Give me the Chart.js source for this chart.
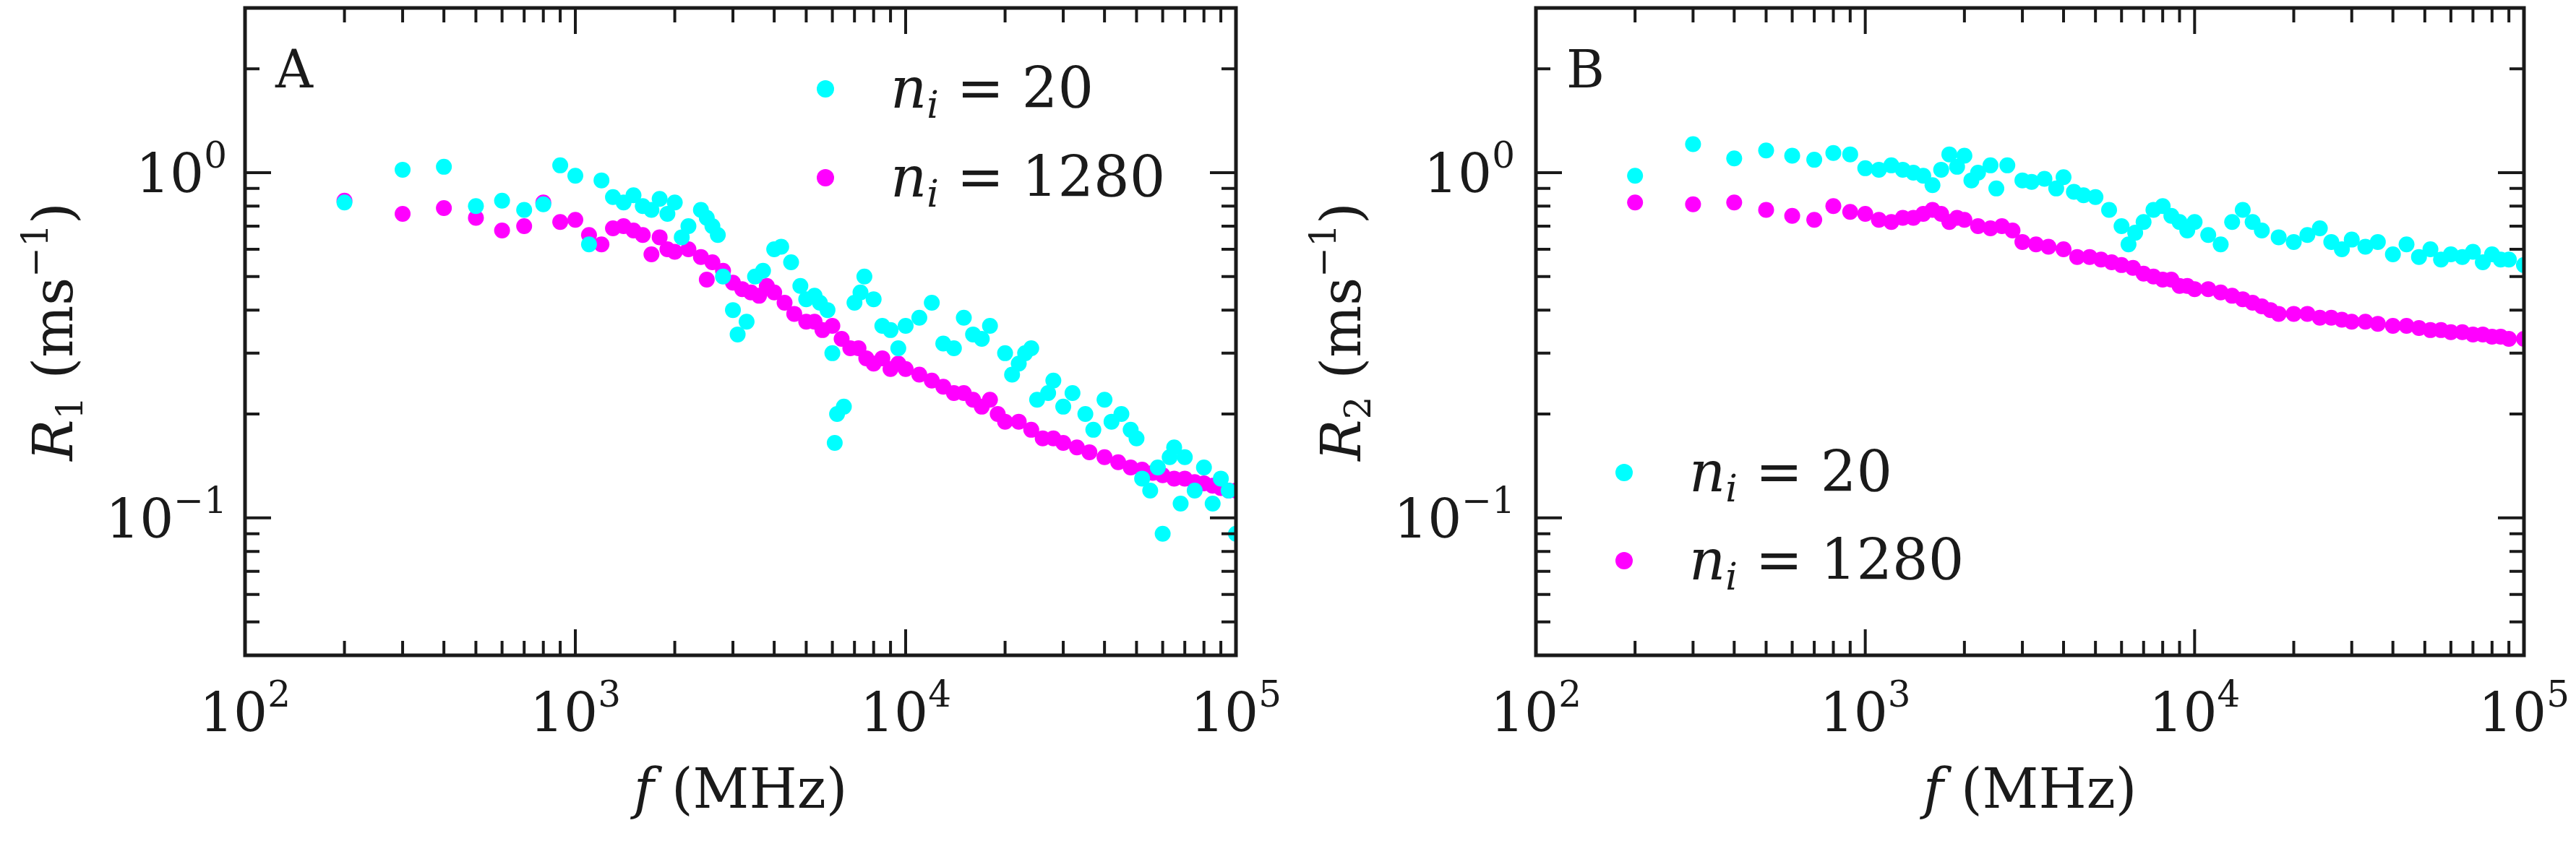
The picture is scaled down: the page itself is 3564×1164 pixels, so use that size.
<!DOCTYPE html>
<html>
<head>
<meta charset="utf-8">
<script src="https://cdn.jsdelivr.net/npm/chart.js@4.4.0/dist/chart.umd.min.js"></script>
<style>
  body { margin: 0; background: #fff; }
  .wrap { display: flex; width: 3564px; height: 1164px; }
  .panel { width: 1782px; height: 1164px; position: relative; }
</style>
</head>
<body>
<div class="wrap">
  <div class="panel"><canvas id="chartA"></canvas></div>
  <div class="panel"><canvas id="chartB"></canvas></div>
</div>
<script>
'use strict';

// Panel A: R1
var fA20 = [200, 300, 400, 500, 600, 700, 800, 900, 1000, 1100, 1200, 1300, 1400, 1500, 1600, 1700, 1800, 1900, 2000, 2100, 2200, 2400, 2500, 2600, 2700, 2800, 3000, 3100, 3300, 3500, 3700, 4000, 4200, 4500, 4800, 5000, 5300, 5500, 5800, 6000, 6100, 6200, 6500, 7000, 7300, 7500, 8000, 8500, 9000, 9500, 10000, 11000, 12000, 13000, 14000, 15000, 16000, 17000, 18000, 20000, 21000, 22000, 23000, 24000, 25000, 27000, 28000, 30000, 32000, 35000, 37000, 40000, 42000, 45000, 48000, 50000, 52000, 55000, 58000, 60000, 63000, 65000, 68000, 70000, 75000, 80000, 85000, 90000, 95000, 100000];
var rA20 = [0.82, 1.02, 1.04, 0.80, 0.83, 0.78, 0.81, 1.05, 0.98, 0.62, 0.95, 0.85, 0.82, 0.86, 0.80, 0.78, 0.84, 0.76, 0.82, 0.65, 0.70, 0.78, 0.74, 0.70, 0.66, 0.50, 0.40, 0.34, 0.37, 0.50, 0.52, 0.60, 0.61, 0.55, 0.47, 0.43, 0.44, 0.42, 0.40, 0.30, 0.165, 0.20, 0.21, 0.42, 0.45, 0.50, 0.43, 0.36, 0.35, 0.31, 0.36, 0.38, 0.42, 0.32, 0.31, 0.38, 0.34, 0.33, 0.36, 0.30, 0.26, 0.28, 0.30, 0.31, 0.22, 0.23, 0.25, 0.21, 0.23, 0.20, 0.18, 0.22, 0.19, 0.20, 0.18, 0.17, 0.13, 0.12, 0.14, 0.09, 0.15, 0.16, 0.11, 0.15, 0.12, 0.14, 0.11, 0.13, 0.12, 0.09];

var fA1280 = [200, 300, 400, 500, 600, 700, 800, 900, 1000, 1100, 1200, 1300, 1400, 1500, 1600, 1700, 1800, 1900, 2000, 2200, 2400, 2500, 2600, 2800, 3000, 3200, 3400, 3600, 3800, 4000, 4300, 4600, 5000, 5300, 5600, 6000, 6400, 6800, 7200, 7600, 8000, 8500, 9000, 9500, 10000, 11000, 12000, 13000, 14000, 15000, 16000, 17000, 18000, 19000, 20000, 22000, 24000, 26000, 28000, 30000, 33000, 36000, 40000, 44000, 48000, 52000, 56000, 60000, 65000, 70000, 75000, 80000, 85000, 90000, 95000, 100000];
var rA1280 = [0.83, 0.76, 0.79, 0.74, 0.68, 0.70, 0.82, 0.72, 0.73, 0.66, 0.62, 0.69, 0.70, 0.68, 0.66, 0.58, 0.65, 0.60, 0.59, 0.60, 0.57, 0.49, 0.55, 0.52, 0.48, 0.46, 0.45, 0.44, 0.47, 0.45, 0.42, 0.39, 0.37, 0.37, 0.35, 0.36, 0.33, 0.31, 0.31, 0.29, 0.28, 0.29, 0.27, 0.28, 0.27, 0.26, 0.25, 0.24, 0.23, 0.23, 0.22, 0.21, 0.22, 0.20, 0.19, 0.19, 0.18, 0.17, 0.17, 0.165, 0.16, 0.155, 0.15, 0.145, 0.14, 0.138, 0.135, 0.133, 0.13, 0.13, 0.127, 0.126, 0.124, 0.122, 0.12, 0.12];

// Panel B: R2
var fB20 = [200, 300, 400, 500, 600, 700, 800, 900, 1000, 1100, 1200, 1300, 1400, 1500, 1600, 1700, 1800, 1900, 2000, 2100, 2200, 2400, 2500, 2700, 3000, 3200, 3500, 3800, 4000, 4300, 4600, 5000, 5500, 6000, 6300, 6600, 7000, 7500, 8000, 8500, 9000, 9500, 10000, 11000, 12000, 13000, 14000, 15000, 16000, 18000, 20000, 22000, 24000, 26000, 28000, 30000, 33000, 36000, 40000, 44000, 48000, 52000, 56000, 60000, 65000, 70000, 75000, 80000, 85000, 90000, 100000];
var rB20 = [0.98, 1.21, 1.10, 1.16, 1.12, 1.09, 1.14, 1.13, 1.03, 1.02, 1.05, 1.02, 1.00, 0.98, 0.92, 1.02, 1.13, 1.04, 1.12, 0.95, 1.00, 1.05, 0.90, 1.05, 0.95, 0.94, 0.96, 0.90, 0.97, 0.88, 0.86, 0.85, 0.78, 0.70, 0.62, 0.67, 0.72, 0.78, 0.80, 0.75, 0.72, 0.68, 0.72, 0.66, 0.62, 0.72, 0.78, 0.72, 0.68, 0.65, 0.63, 0.66, 0.69, 0.63, 0.60, 0.64, 0.61, 0.63, 0.58, 0.62, 0.57, 0.60, 0.56, 0.58, 0.57, 0.59, 0.55, 0.58, 0.56, 0.56, 0.54];

var fB1280 = [200, 300, 400, 500, 600, 700, 800, 900, 1000, 1100, 1200, 1300, 1400, 1500, 1600, 1700, 1800, 1900, 2000, 2200, 2400, 2600, 2800, 3000, 3300, 3600, 4000, 4400, 4800, 5200, 5600, 6000, 6500, 7000, 7500, 8000, 8500, 9000, 9500, 10000, 11000, 12000, 13000, 14000, 15000, 16000, 17000, 18000, 20000, 22000, 24000, 26000, 28000, 30000, 33000, 36000, 40000, 44000, 48000, 52000, 56000, 60000, 65000, 70000, 75000, 80000, 85000, 90000, 100000];
var rB1280 = [0.82, 0.81, 0.82, 0.78, 0.75, 0.73, 0.80, 0.77, 0.76, 0.73, 0.72, 0.74, 0.74, 0.76, 0.78, 0.76, 0.72, 0.74, 0.73, 0.70, 0.69, 0.70, 0.68, 0.63, 0.62, 0.61, 0.60, 0.57, 0.57, 0.56, 0.55, 0.54, 0.53, 0.51, 0.50, 0.49, 0.49, 0.47, 0.47, 0.46, 0.46, 0.45, 0.44, 0.43, 0.42, 0.41, 0.40, 0.39, 0.39, 0.39, 0.38, 0.38, 0.375, 0.37, 0.37, 0.365, 0.36, 0.36, 0.355, 0.35, 0.35, 0.345, 0.345, 0.34, 0.34, 0.335, 0.335, 0.33, 0.33];

var xMajor = [100, 1000, 10000, 100000];
var xExp = ['2', '3', '4', '5'];
var yMajor = [0.1, 1];
var yExp = ['\u22121', '0'];

var CYAN = '#00ffff';
var MAGENTA = '#ff00ff';
var SERIF = '"DejaVu Serif", "Liberation Serif", serif';

function toPoints(xs, ys) {
  return xs.map(function(x, i) { return { x: x, y: ys[i] }; });
}

function minorTicks(lo, hi) {
  var out = [];
  for (var d = Math.pow(10, Math.floor(Math.log10(lo))); d < hi; d *= 10) {
    for (var m = 2; m <= 9; m++) {
      var v = +(m * d).toPrecision(3);
      if (v > lo && v < hi) out.push(v);
    }
  }
  return out;
}

function powerLabel(ctx, x, y, exp, align) {
  ctx.font = '74px ' + SERIF;
  var w10 = ctx.measureText('10').width;
  ctx.font = '50px ' + SERIF;
  var wE = ctx.measureText(exp).width;
  var start = align === 'right' ? x - w10 - wE : x - (w10 + wE) / 2;
  ctx.textAlign = 'left';
  ctx.textBaseline = 'alphabetic';
  ctx.font = '74px ' + SERIF;
  ctx.fillText('10', start, y);
  ctx.font = '50px ' + SERIF;
  ctx.fillText(exp, start + w10, y - 34);
}

// writes a list of [text, style, dy, size] runs from x
function runs(ctx, x, y, parts) {
  var cx = x;
  parts.forEach(function(p) {
    ctx.font = (p[1] || '') + ' ' + p[3] + 'px ' + SERIF;
    ctx.fillText(p[0], cx, y + p[2]);
    cx += ctx.measureText(p[0]).width;
  });
  return cx - x;
}

function measureRuns(ctx, parts) {
  var w = 0;
  parts.forEach(function(p) {
    ctx.font = (p[1] || '') + ' ' + p[3] + 'px ' + SERIF;
    w += ctx.measureText(p[0]).width;
  });
  return w;
}

function makeDecor(cfg) {
  return {
    id: 'decor',
    afterDraw: function(chart) {
      var ctx = chart.ctx;
      var a = chart.chartArea;
      var xs = chart.scales.x;
      var ys = chart.scales.y;
      ctx.save();
      ctx.strokeStyle = '#1a1a1a';
      ctx.fillStyle = '#1a1a1a';

      // inward ticks
      ctx.lineWidth = 4;
      function hTick(v, len) {
        var px = xs.getPixelForValue(v);
        ctx.beginPath();
        ctx.moveTo(px, a.bottom); ctx.lineTo(px, a.bottom - len);
        ctx.moveTo(px, a.top); ctx.lineTo(px, a.top + len);
        ctx.stroke();
      }
      function vTick(v, len) {
        var py = ys.getPixelForValue(v);
        ctx.beginPath();
        ctx.moveTo(a.left, py); ctx.lineTo(a.left + len, py);
        ctx.moveTo(a.right, py); ctx.lineTo(a.right - len, py);
        ctx.stroke();
      }
      xMajor.forEach(function(v) { hTick(v, 36); });
      minorTicks(100, 100000).forEach(function(v) { hTick(v, 20); });
      yMajor.forEach(function(v) { vTick(v, 36); });
      minorTicks(0.04, 3).forEach(function(v) { vTick(v, 20); });

      // frame
      ctx.lineWidth = 5;
      ctx.strokeRect(a.left, a.top, a.right - a.left, a.bottom - a.top);

      // tick labels
      xMajor.forEach(function(v, i) {
        powerLabel(ctx, xs.getPixelForValue(v), 1012, xExp[i], 'center');
      });
      yMajor.forEach(function(v, i) {
        powerLabel(ctx, 314, ys.getPixelForValue(v) + 27, yExp[i], 'right');
      });

      // x title
      var xt = [['f', 'italic', 0, 76], [' (MHz)', '', 0, 76]];
      ctx.textAlign = 'left';
      ctx.textBaseline = 'alphabetic';
      var wx = measureRuns(ctx, xt);
      runs(ctx, (a.left + a.right) / 2 - wx / 2, 1118, xt);

      // y title, rotated
      var yt = [['R', 'italic', 0, 76], [cfg.sub, '', 14, 50], [' (ms', '', 0, 76], ['\u22121', '', -34, 50], [')', '', 0, 76]];
      var wy = measureRuns(ctx, yt);
      ctx.save();
      ctx.translate(100, (a.top + a.bottom) / 2);
      ctx.rotate(-Math.PI / 2);
      runs(ctx, -wy / 2, 0, yt);
      ctx.restore();

      // panel letter
      ctx.font = '72px ' + SERIF;
      ctx.fillText(cfg.letter, a.left + 42, 121);

      // legend
      var items = [[CYAN, '20'], [MAGENTA, '1280']];
      items.forEach(function(it, i) {
        var ly = cfg.legY[i];
        ctx.fillStyle = it[0];
        ctx.beginPath();
        ctx.arc(cfg.legX, ly, 12, 0, Math.PI * 2);
        ctx.fill();
        ctx.fillStyle = '#1a1a1a';
        runs(ctx, cfg.legX + 90, ly + 26, [['n', 'italic', 0, 78], ['i', 'italic', 14, 52], [' = ' + it[1], '', 0, 78]]);
      });
      ctx.restore();
    }
  };
}

function makeChart(id, s20, s1280, cfg) {
  return new Chart(document.getElementById(id), {
    type: 'scatter',
    data: {
      datasets: [
        { label: 'n_i = 20', data: s20, backgroundColor: CYAN, borderWidth: 0, pointRadius: 11 },
        { label: 'n_i = 1280', data: s1280, backgroundColor: MAGENTA, borderWidth: 0, pointRadius: 11 }
      ]
    },
    options: {
      responsive: true,
      maintainAspectRatio: false,
      devicePixelRatio: 1,
      animation: false,
      layout: { padding: { left: 0, right: 72, top: 11, bottom: 0 } },
      plugins: { legend: { display: false }, tooltip: { enabled: false } },
      scales: {
        x: {
          type: 'logarithmic', min: 100, max: 100000,
          ticks: { display: false }, grid: { display: false }, border: { display: false },
          afterFit: function(s) { s.height = 257; }
        },
        y: {
          type: 'logarithmic', min: 0.04, max: 3,
          ticks: { display: false }, grid: { display: false }, border: { display: false },
          afterFit: function(s) { s.width = cfg.leftW; }
        }
      }
    },
    plugins: [makeDecor(cfg)]
  });
}

makeChart('chartA', toPoints(fA20, rA20), toPoints(fA1280, rA1280),
  { letter: 'A', sub: '1', leftW: 339, legX: 1142, legY: [123, 246] });
makeChart('chartB', toPoints(fB20, rB20), toPoints(fB1280, rB1280),
  { letter: 'B', sub: '2', leftW: 343, legX: 465, legY: [654, 776] });
</script>
</body>
</html>
